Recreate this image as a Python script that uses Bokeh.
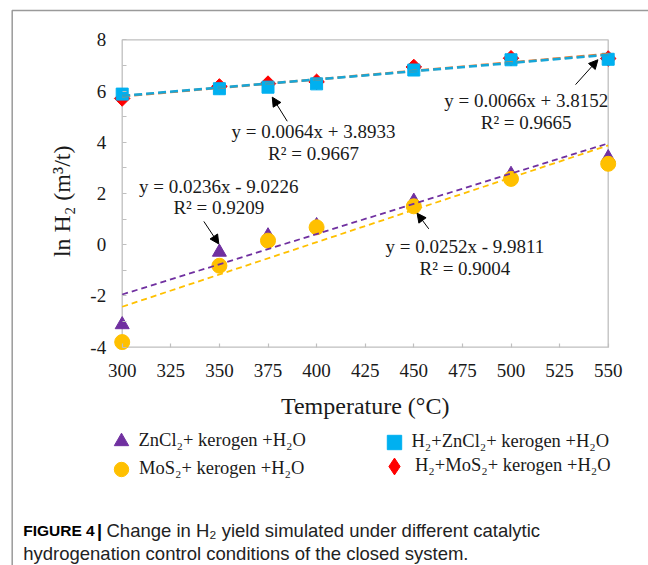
import numpy as np
from bokeh.plotting import figure
from bokeh.models import (Label, Arrow, NormalHead, Legend, LegendItem,
                          FixedTicker, Range1d, ColumnDataSource)
from bokeh.embed import file_html
from bokeh.resources import INLINE

# ---------------- data ----------------
temps = [300, 350, 375, 400, 450, 500, 550]
zncl2 = [-3.12, -0.29, 0.35, 0.75, 1.70, 2.75, 3.40]
mos2 = [-3.80, -0.82, 0.16, 0.68, 1.50, 2.57, 3.16]
h2_zncl2 = [5.88, 6.09, 6.15, 6.28, 6.82, 7.22, 7.24]
h2_mos2 = [5.71, 6.18, 6.29, 6.36, 6.94, 7.28, 7.27]

series_labels = ["ZnCl₂+ kerogen +H₂O", "MoS₂+ kerogen +H₂O",
                 "H₂+ZnCl₂+ kerogen +H₂O", "H₂+MoS₂+ kerogen +H₂O"]

# trendline fits as printed on the chart: ZnCl2, MoS2, H2+ZnCl2, H2+MoS2
fit_slope = [0.0236, 0.0252, 0.0064, 0.0066]
fit_intercept = [-9.0226, -9.9811, 3.8933, 3.8152]
fit_r2 = [0.9209, 0.9004, 0.9667, 0.9665]

x_ticks = [300, 325, 350, 375, 400, 425, 450, 475, 500, 525, 550]
y_ticks = [-4, -2, 0, 2, 4, 6, 8]
y_minor = [-3, -1, 1, 3, 5, 7]

x_title = "Temperature (°C)"
y_title = "ln H₂ (m³/t)"
caption_bold = "FIGURE 4"
caption_bar = "|"
caption_1 = "Change in H₂ yield simulated under different catalytic"
caption_2 = "hydrogenation control conditions of the closed system."

# ---------------- styling / layout ----------------
SERIF = "Liberation Serif"
SANS = "Liberation Sans"
TXT = "#1a1a1a"
GRAY = "#bfbfbf"
C_TRI, C_CIR, C_SQ, C_DIA = "#7030A0", "#FFC000", "#00B0F0", "#FF0000"
C_LINES = ["#7030A0", "#FFC000", "#16A6D8", "#ED7D31"]

W, H = 648, 565
# plot box on the canvas: x 300..550 -> 121.7..607.7 px, y 8..-4 -> 39.3..346.7 px
PX_L, PX_R, PY_T, PY_B = 121.7, 607.7, 39.3, 346.7
kx = (PX_R - PX_L) / (x_ticks[-1] - x_ticks[0])
ky = (PY_B - PY_T) / (y_ticks[-1] - y_ticks[0])
x0 = x_ticks[0] - PX_L / kx
x1 = x_ticks[-1] + (W - PX_R) / kx
y1 = y_ticks[-1] + PY_T / ky
y0 = y_ticks[0] - (H - PY_B) / ky

p = figure(width=W, height=H, x_range=Range1d(x0, x1), y_range=Range1d(y0, y1),
           output_backend="svg", toolbar_location=None, min_border=0)
p.grid.visible = False
p.outline_line_color = None
p.background_fill_color = "white"
p.border_fill_color = "white"

# outer panel frame (only its left and top edges fall on the canvas)
p.quad(left=[x0 + 11.7 / kx], right=[x1 + 20], top=[y1 - 10 / ky], bottom=[y0 - 20],
       fill_color=None, line_color="#9a9a9a", line_width=1.5)
# plot-area box
p.quad(left=[x_ticks[0]], right=[x_ticks[-1]], bottom=[y_ticks[0]], top=[y_ticks[-1]],
       fill_color=None, line_color=GRAY, line_width=1.3)

p.xaxis.fixed_location = y_ticks[0]
p.yaxis.fixed_location = x_ticks[0]
p.xaxis.ticker = FixedTicker(ticks=x_ticks, minor_ticks=[])
p.yaxis.ticker = FixedTicker(ticks=y_ticks, minor_ticks=y_minor)
for ax in (p.xaxis, p.yaxis):
    ax.axis_line_color = None
    ax.major_tick_line_color = GRAY
    ax.minor_tick_line_color = GRAY
    ax.major_tick_line_width = 1.2
    ax.minor_tick_line_width = 1.2
    ax.major_tick_in = 4
    ax.major_tick_out = 0
    ax.minor_tick_in = 4
    ax.minor_tick_out = 0
    ax.major_label_text_font = SERIF
    ax.major_label_text_font_size = "19px"
    ax.major_label_text_color = TXT
p.xaxis.minor_tick_line_color = None
p.xaxis.major_label_standoff = 17
p.yaxis.major_label_standoff = 16
p.yaxis.major_label_overrides = {t: str(t) for t in y_ticks if t < 0}

# axis titles
p.add_layout(Label(x=(PX_L + PX_R) / 2, y=H - 405, x_units="screen", y_units="screen", text=x_title,
                   text_align="center", text_baseline="middle", text_font=SERIF,
                   text_font_size="24px", text_color=TXT))
p.add_layout(Label(x=61.7, y=H - 200.8, x_units="screen", y_units="screen", text=y_title,
                   angle=np.pi / 2, text_align="center", text_baseline="middle", text_font=SERIF,
                   text_font_size="24px", text_color=TXT))

src = ColumnDataSource(dict(t=temps, a=zncl2, b=mos2, c=h2_zncl2, d=h2_mos2))
r_tri = p.scatter("t", "a", source=src, marker="triangle", size=14, color=C_TRI)
r_cir = p.scatter("t", "b", source=src, marker="circle", size=15, color=C_CIR)
r_dia = p.scatter("t", "d", source=src, marker="square", angle=np.pi / 4, size=11, color=C_DIA)
r_sq = p.scatter("t", "c", source=src, marker="square", size=12, color=C_SQ)
# legend swatch for the diamond series: same data, zero size on the plot
# (legend swatches are sized by the legend box and ignore glyph rotation)
r_dia_key = p.scatter("t", "d", source=src, marker="diamond", size=0, fill_color=C_DIA,
                      line_color=C_DIA, line_width=1)

# trend lines (Excel linear fits across the temperature span)
order = [3, 2, 0, 1]
widths = [1.8, 1.8, 2.5, 2.5]
dashes = ["6 4", "6 4", "8 4", "8 4"]
for i in order:
    xs = [temps[0], temps[-1]]
    ys = [fit_slope[i] * x + fit_intercept[i] for x in xs]
    p.line(xs, ys, line_color=C_LINES[i], line_width=widths[i], line_dash=dashes[i])

def eq_text(i):
    sign = "-" if fit_intercept[i] < 0 else "+"
    return f"y = {fit_slope[i]:.4f}x {sign} {abs(fit_intercept[i]):.4f}"

# equation label positions (data units) and arrows
eq_pos = [(349.7, 2.27, 1.44), (476.3, -0.07, -0.92), (398.4, 4.43, 3.55), (507.8, 5.63, 4.76)]
arrows = [(342.0, 0.91, 349.7, 0.03), (457.7, 0.62, 451.7, 1.23),
          (384.9, 4.82, 377.2, 5.76), (533.2, 6.25, 544.7, 7.22)]
for i in range(4):
    x, ya, yb = eq_pos[i]
    p.add_layout(Label(x=x, y=ya, text=eq_text(i), text_align="center", text_baseline="middle",
                       text_font=SERIF, text_font_size="19px", text_color=TXT))
    p.add_layout(Label(x=x, y=yb, text=f"R² = {fit_r2[i]:.4f}", text_align="center",
                       text_baseline="middle", text_font=SERIF, text_font_size="19px", text_color=TXT))
    xs0, ys0, xe, ye = arrows[i]
    p.add_layout(Arrow(x_start=xs0, y_start=ys0, x_end=xe, y_end=ye, line_color="black", line_width=1,
                       end=NormalHead(size=9, fill_color="black", line_color="black")))

# legend: one single-entry legend per series, placed by its swatch centre (canvas px)
legend_keys = [(r_tri, 120.5, 440.5, 36), (r_cir, 121.0, 468.5, 36),
               (r_sq, 393.5, 441.5, 36), (r_dia_key, 394.0, 465.5, 42)]
for i, (rend, cx, cy, G) in enumerate(legend_keys):
    p.add_layout(Legend(items=[LegendItem(label=series_labels[i], renderers=[rend])],
                        location=(cx - G / 2, H - (cy + G / 2)), glyph_width=G, glyph_height=G,
                        label_standoff=0 if G == 36 else -2, padding=0, margin=0, spacing=0,
                        border_line_color=None, background_fill_alpha=0, label_text_font=SERIF,
                        label_text_font_size="18.5px", label_text_color=TXT))

# caption
p.add_layout(Label(x=22.7, y=H - 530, x_units="screen", y_units="screen", text=caption_bold,
                   text_font=SANS, text_font_style="bold", text_font_size="15.5px", text_color="black",
                   text_baseline="middle"))
p.add_layout(Label(x=96.5, y=H - 530, x_units="screen", y_units="screen", text=caption_bar,
                   text_font=SANS, text_font_style="bold", text_font_size="18px", text_color="black",
                   text_baseline="middle"))
p.add_layout(Label(x=106, y=H - 530, x_units="screen", y_units="screen", text=caption_1,
                   text_font=SANS, text_font_size="18.5px", text_color="#222222", text_baseline="middle"))
p.add_layout(Label(x=22.7, y=H - 553, x_units="screen", y_units="screen", text=caption_2,
                   text_font=SANS, text_font_size="18.5px", text_color="#222222", text_baseline="middle"))

open("out.html", "w").write(file_html(p, INLINE))
